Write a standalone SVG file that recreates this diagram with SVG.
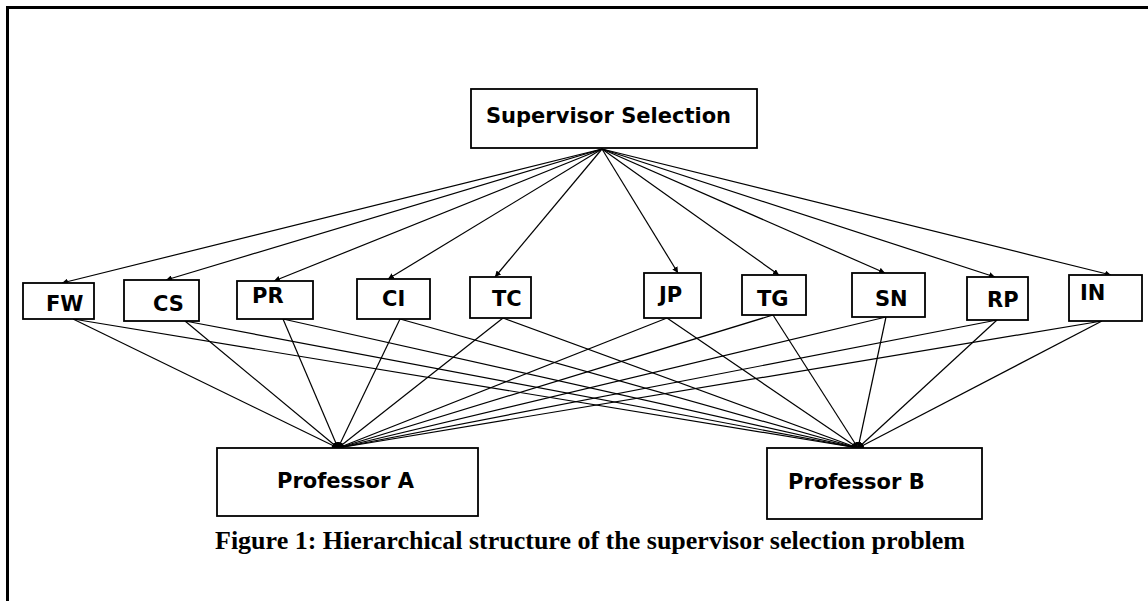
<svg xmlns="http://www.w3.org/2000/svg" width="1148" height="601" viewBox="0 0 1148 601">
  <style>
    .box { fill: #ffffff; stroke: #000000; stroke-width: 1.8; }
    .lbl { font-family: "DejaVu Sans", "Liberation Sans", sans-serif; font-weight: bold; font-size: 21px; fill: #000000; }
    .con { stroke: #000000; stroke-width: 1.2; fill: none; marker-end: url(#arr); }
    .cap { font-family: "Liberation Serif", "Times New Roman", serif; font-weight: bold; font-size: 26px; fill: #000000; }
    .frame { stroke: #000000; stroke-width: 3; fill: none; }
  </style>
  <defs>
    <marker id="arr" markerUnits="userSpaceOnUse" markerWidth="6" markerHeight="6" refX="6" refY="3" orient="auto">
      <path d="M0,0 L6,3 L0,6 z" fill="#000000"/>
    </marker>
  </defs>
  <rect width="1148" height="601" fill="#ffffff"/>
  <path class="frame" d="M7.5,601 L7.5,7.5 L1148,7.5"/>

  <g id="connectors">
    <line class="con" x1="602" y1="149" x2="62" y2="283"/>
    <line class="con" x1="602" y1="149" x2="166" y2="280"/>
    <line class="con" x1="602" y1="149" x2="274" y2="281"/>
    <line class="con" x1="602" y1="149" x2="388" y2="279"/>
    <line class="con" x1="602" y1="149" x2="495" y2="277"/>
    <line class="con" x1="602" y1="149" x2="678" y2="273"/>
    <line class="con" x1="602" y1="149" x2="779" y2="275"/>
    <line class="con" x1="602" y1="149" x2="885" y2="273"/>
    <line class="con" x1="602" y1="149" x2="995" y2="277"/>
    <line class="con" x1="602" y1="149" x2="1111" y2="275"/>

    <line class="con" x1="73" y1="319" x2="338" y2="448"/>
    <line class="con" x1="185" y1="321" x2="338" y2="448"/>
    <line class="con" x1="283" y1="319" x2="338" y2="448"/>
    <line class="con" x1="400" y1="319" x2="338" y2="448"/>
    <line class="con" x1="503" y1="318" x2="338" y2="448"/>
    <line class="con" x1="667" y1="318" x2="338" y2="448"/>
    <line class="con" x1="773" y1="315" x2="338" y2="448"/>
    <line class="con" x1="886" y1="317" x2="338" y2="448"/>
    <line class="con" x1="997" y1="320" x2="338" y2="448"/>
    <line class="con" x1="1102" y1="321" x2="338" y2="448"/>

    <line class="con" x1="73" y1="319" x2="858" y2="448"/>
    <line class="con" x1="185" y1="321" x2="858" y2="448"/>
    <line class="con" x1="283" y1="319" x2="858" y2="448"/>
    <line class="con" x1="400" y1="319" x2="858" y2="448"/>
    <line class="con" x1="503" y1="318" x2="858" y2="448"/>
    <line class="con" x1="667" y1="318" x2="858" y2="448"/>
    <line class="con" x1="773" y1="315" x2="858" y2="448"/>
    <line class="con" x1="886" y1="317" x2="858" y2="448"/>
    <line class="con" x1="997" y1="320" x2="858" y2="448"/>
    <line class="con" x1="1102" y1="321" x2="858" y2="448"/>
  </g>

  <g id="node-supervisor-selection">
    <rect class="box" x="471" y="89" width="286" height="59"/>
    <text class="lbl" x="486" y="123">Supervisor Selection</text>
  </g>
  <g id="node-FW">
    <rect class="box" x="23" y="283" width="71" height="36"/>
    <text class="lbl" x="46" y="311">FW</text>
  </g>
  <g id="node-CS">
    <rect class="box" x="124" y="280" width="75" height="41"/>
    <text class="lbl" x="153" y="311">CS</text>
  </g>
  <g id="node-PR">
    <rect class="box" x="237" y="281" width="76" height="38"/>
    <text class="lbl" x="252" y="303">PR</text>
  </g>
  <g id="node-CI">
    <rect class="box" x="357" y="279" width="73" height="40"/>
    <text class="lbl" x="382" y="306">CI</text>
  </g>
  <g id="node-TC">
    <rect class="box" x="470" y="277" width="61" height="41"/>
    <text class="lbl" x="492" y="306">TC</text>
  </g>
  <g id="node-JP">
    <rect class="box" x="644" y="273" width="57" height="45"/>
    <text class="lbl" x="659" y="302">JP</text>
  </g>
  <g id="node-TG">
    <rect class="box" x="742" y="275" width="64" height="40"/>
    <text class="lbl" x="757" y="306">TG</text>
  </g>
  <g id="node-SN">
    <rect class="box" x="852" y="273" width="73" height="44"/>
    <text class="lbl" x="875" y="306">SN</text>
  </g>
  <g id="node-RP">
    <rect class="box" x="967" y="277" width="61" height="43"/>
    <text class="lbl" x="987" y="307">RP</text>
  </g>
  <g id="node-IN">
    <rect class="box" x="1069" y="275" width="73" height="46"/>
    <text class="lbl" x="1080" y="300">IN</text>
  </g>
  <g id="node-professor-a">
    <rect class="box" x="217" y="448" width="261" height="68"/>
    <text class="lbl" x="277" y="488">Professor A</text>
  </g>
  <g id="node-professor-b">
    <rect class="box" x="767" y="448" width="215" height="71"/>
    <text class="lbl" x="788" y="489">Professor B</text>
  </g>

  <text class="cap" x="215" y="549">Figure 1: Hierarchical structure of the supervisor selection problem</text>
</svg>
